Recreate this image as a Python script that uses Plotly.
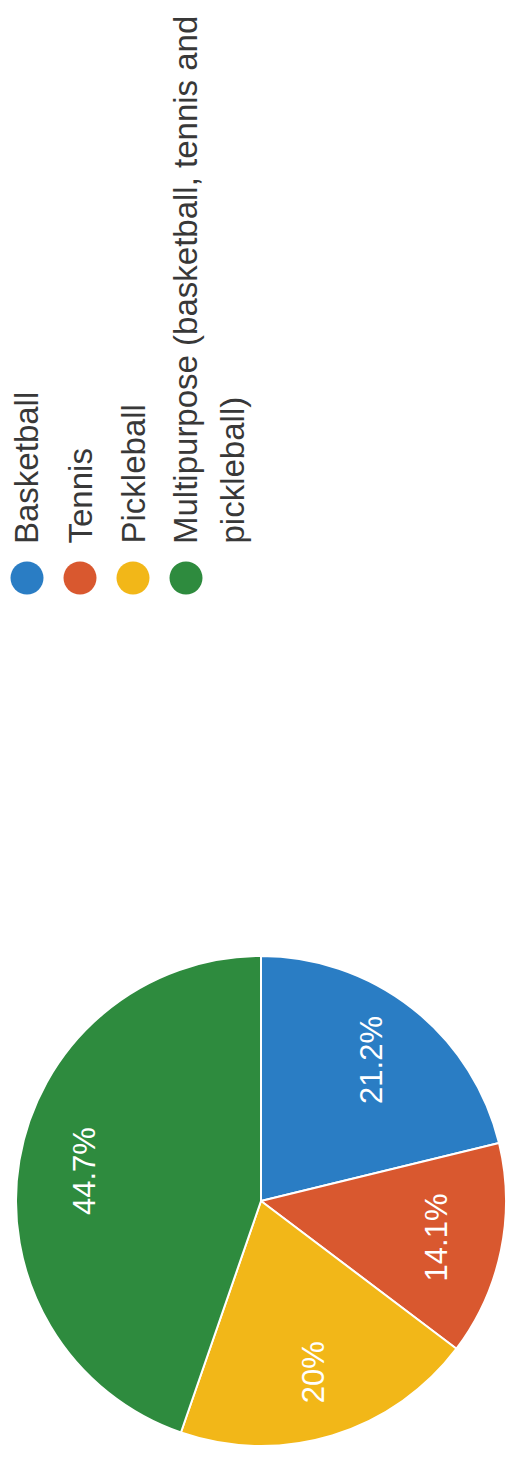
import math
import textwrap
import plotly.graph_objects as go

# ---- data ----
categories = ["Basketball", "Tennis", "Pickleball",
              "Multipurpose (basketball, tennis and pickleball)"]
percentages = [21.2, 14.1, 20.0, 44.7]
colors = ["#2A7DC4", "#D9582F", "#F2B718", "#2E8B3E"]

# ---- layout constants (pixels) ----
W, H = 510, 1480
CX, CY, R = 261, 1201, 245          # pie centre (from top) and radius
FONT = "Liberation Sans, Arial, sans-serif"

fig = go.Figure()
fig.add_trace(go.Pie(
    labels=categories, values=percentages, sort=False,
    direction="clockwise", rotation=0,
    marker=dict(colors=colors, line=dict(color="white", width=2)),
    textinfo="none", hoverinfo="label+percent", showlegend=False,
    domain=dict(x=[(CX - R) / W, (CX + R) / W],
                y=[(H - CY - R) / H, (H - CY + R) / H]),
))

annotations = []
shapes = []

# percentage labels, rotated, placed at slice mid-angles
total = sum(percentages)
cum = 0.0
for v in percentages:
    mid = (cum + v / 2) / total * 2 * math.pi
    cum += v
    rl = 0.73 * R
    px = CX + rl * math.sin(mid)
    py = CY - rl * math.cos(mid)
    annotations.append(dict(
        x=px / W, y=1 - py / H, xref="paper", yref="paper",
        text=f"{v:g}%", showarrow=False, textangle=-90,
        xanchor="center", yanchor="middle",
        font=dict(family=FONT, size=31, color="white")))

# rotated legend
LEG_X0, LEG_STEP, LEG_Y = 27, 53, 578
TEXT_BOTTOM = 545
LINE_STEP = 46
MR = 16.5
for i, (name, col) in enumerate(zip(categories, colors)):
    cx = LEG_X0 + i * LEG_STEP
    shapes.append(dict(type="circle", xref="paper", yref="paper",
                       x0=(cx - MR) / W, x1=(cx + MR) / W,
                       y0=1 - (LEG_Y + MR) / H, y1=1 - (LEG_Y - MR) / H,
                       fillcolor=col, line=dict(width=0)))
    for j, line in enumerate(textwrap.wrap(name, 36)):
        annotations.append(dict(
            x=(cx + j * LINE_STEP) / W, y=1 - TEXT_BOTTOM / H,
            xref="paper", yref="paper", text=line, showarrow=False,
            textangle=-90, xanchor="center", yanchor="bottom",
            borderpad=0,
            font=dict(family=FONT, size=33, color="#383838")))

fig.update_layout(
    width=W, height=H, margin=dict(l=0, r=0, t=0, b=0, pad=0),
    paper_bgcolor="white", plot_bgcolor="white",
    annotations=annotations, shapes=shapes,
)
fig.write_html("out.html",
               config={"displayModeBar": False},
               post_script="document.body.style.margin='0';"
                           "document.body.style.overflow='hidden';")
